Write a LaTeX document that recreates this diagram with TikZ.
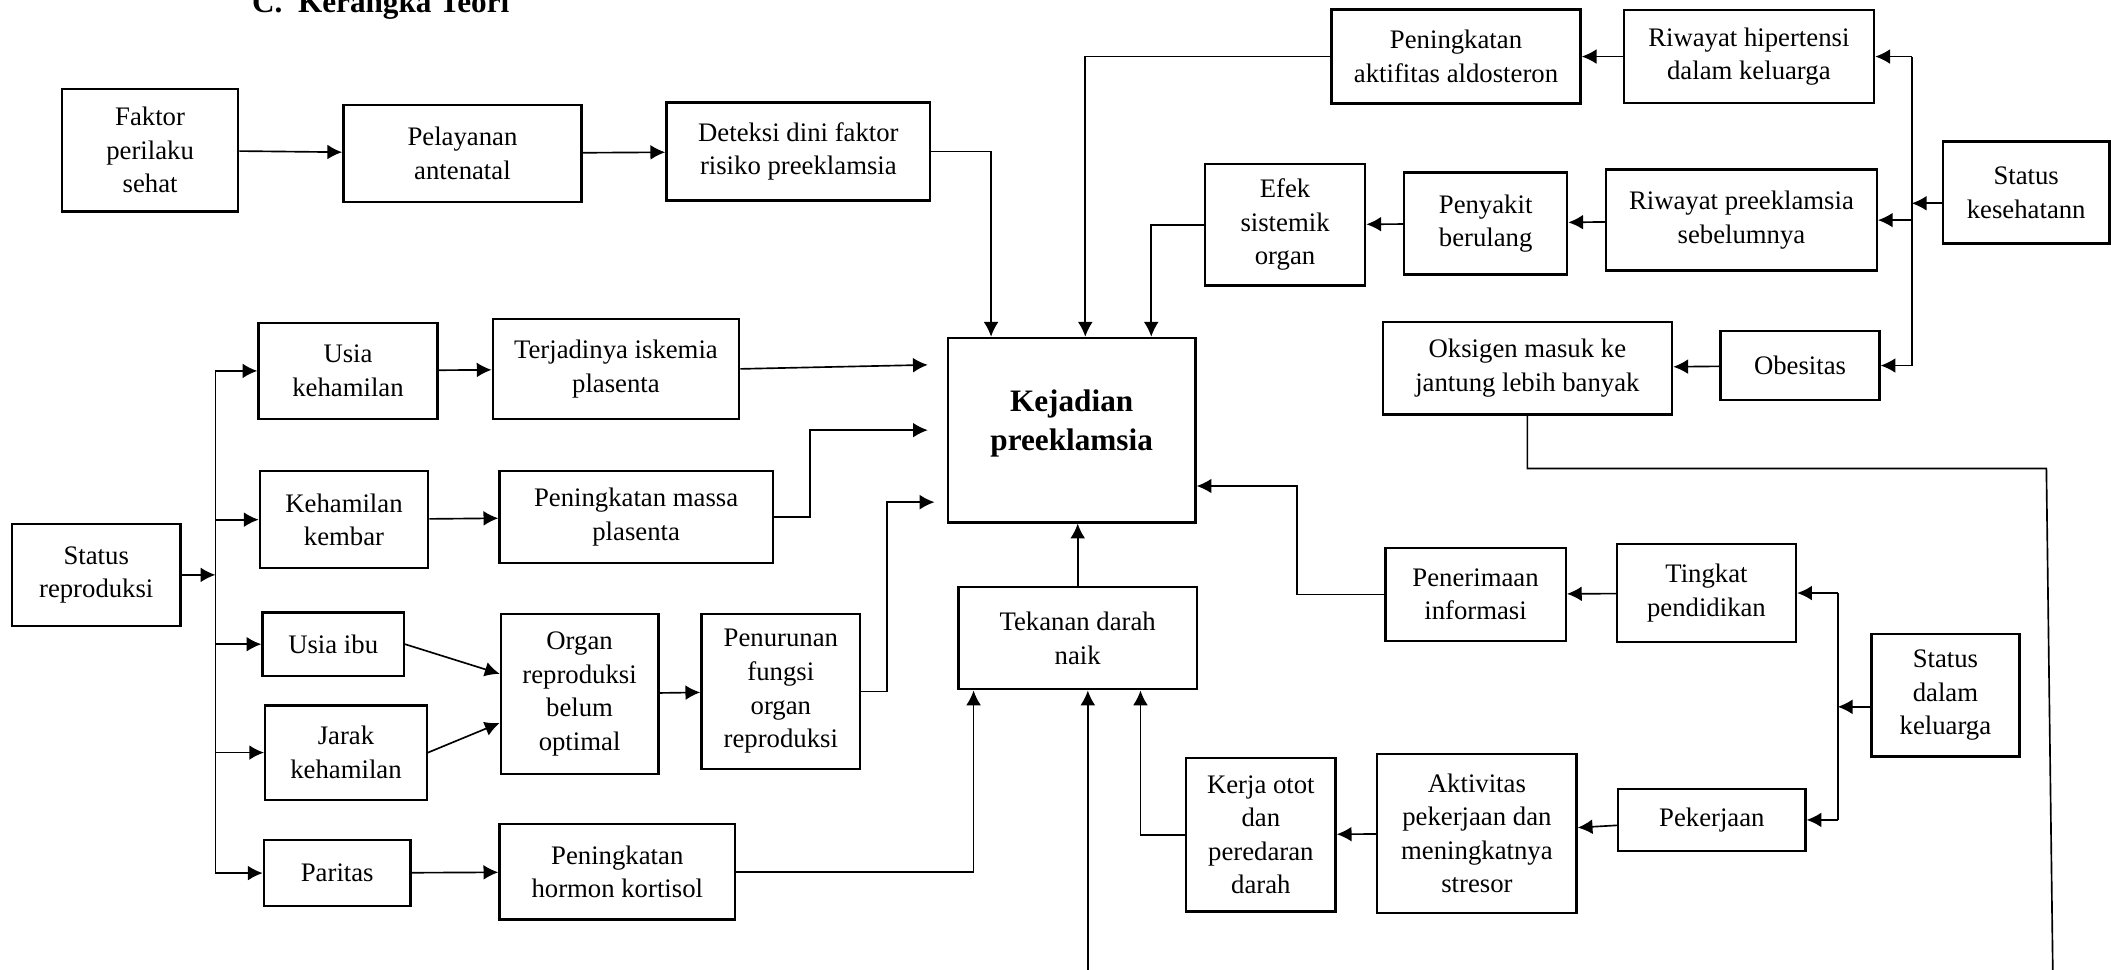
\documentclass[tikz,border=0pt]{standalone}
\usepackage{fontspec}
\setmainfont{Liberation Serif}
\usepackage{tikz}
\usetikzlibrary{arrows.meta}

\begin{document}
\begin{tikzpicture}[x=0.02cm, y=-0.02cm,
    kotak/.style={rectangle,draw=black,line width=1pt,align=center,inner sep=1pt,font=\fontsize{11.3}{14.2}\selectfont},
    panah/.style={-{Latex[length=2.2mm,width=2.2mm]},line width=0.7pt},
    garis/.style={line width=0.7pt}]
    \useasboundingbox (0,0) rectangle (1568,720);
    \node[anchor=base west,font=\fontsize{13.2}{16}\selectfont\bfseries] (T) at (181,9.5) {C.\ \ Kerangka Teori};

    \node[kotak,minimum width=2.62cm,minimum height=1.82cm] (FPS) at (111.5,111.5) {Faktor\\perilaku\\sehat};
    \node[kotak,minimum width=3.54cm,minimum height=1.44cm] (PA) at (343.5,114) {Pelayanan\\antenatal};
    \node[kotak,minimum width=3.92cm,minimum height=1.46cm] (DD) at (593,112.5) {Deteksi dini faktor\\risiko preeklamsia};
    \node[kotak,minimum width=2.5cm,minimum height=1.52cm] (SR) at (71.5,427) {Status\\reproduksi};
    \node[kotak,minimum width=2.66cm,minimum height=1.42cm] (UK) at (258.5,275.5) {Usia\\kehamilan};
    \node[kotak,minimum width=3.66cm,minimum height=1.48cm] (TI) at (457.5,274) {Terjadinya iskemia\\plasenta};
    \node[kotak,minimum width=2.5cm,minimum height=1.44cm] (KK) at (255.5,386) {Kehamilan\\kembar};
    \node[kotak,minimum width=4.06cm,minimum height=1.36cm] (PM) at (472.5,384) {Peningkatan massa\\plasenta};
    \node[kotak,minimum width=2.1cm,minimum height=0.94cm] (UI) at (247.5,478.5) {Usia ibu};
    \node[kotak,minimum width=2.4cm,minimum height=1.4cm] (JK) at (257,559) {Jarak\\kehamilan};
    \node[kotak,minimum width=2.34cm,minimum height=2.38cm] (OR) at (430.5,515.5) {Organ\\reproduksi\\belum\\optimal};
    \node[kotak,minimum width=2.36cm,minimum height=2.3cm] (PF) at (580,513.5) {Penurunan\\fungsi\\organ\\reproduksi};
    \node[kotak,minimum width=2.18cm,minimum height=0.98cm] (PR) at (250.5,648.5) {Paritas};
    \node[kotak,minimum width=3.5cm,minimum height=1.42cm] (HK) at (458.5,647.5) {Peningkatan\\hormon kortisol};
    \node[kotak,minimum width=3.68cm,minimum height=2.74cm,text depth=0.3cm,font=\fontsize{13.2}{16.4}\selectfont\bfseries] (KP) at (796,319.5) {Kejadian\\preeklamsia};
    \node[kotak,minimum width=3.54cm,minimum height=1.52cm] (TD) at (800.5,474) {Tekanan darah\\naik};
    \node[kotak,minimum width=3.7cm,minimum height=1.4cm] (AL) at (1081.5,42) {Peningkatan\\aktifitas aldosteron};
    \node[kotak,minimum width=3.72cm,minimum height=1.38cm] (RH) at (1299,42) {Riwayat hipertensi\\dalam keluarga};
    \node[kotak,minimum width=2.48cm,minimum height=1.52cm] (SK) at (1505,143) {Status\\kesehatann};
    \node[kotak,minimum width=2.38cm,minimum height=1.8cm] (ES) at (954.5,167) {Efek\\sistemik\\organ};
    \node[kotak,minimum width=2.42cm,minimum height=1.52cm] (PB) at (1103.5,166) {Penyakit\\berulang};
    \node[kotak,minimum width=4.02cm,minimum height=1.5cm] (RP) at (1293.5,163.5) {Riwayat preeklamsia\\sebelumnya};
    \node[kotak,minimum width=4.3cm,minimum height=1.38cm] (OK) at (1134.5,273.5) {Oksigen masuk ke\\jantung lebih banyak};
    \node[kotak,minimum width=2.36cm,minimum height=1.02cm] (OB) at (1337,271.5) {Obesitas};
    \node[kotak,minimum width=2.68cm,minimum height=1.38cm] (PI) at (1096,441.5) {Penerimaan\\informasi};
    \node[kotak,minimum width=2.66cm,minimum height=1.46cm] (TP) at (1267.5,440.5) {Tingkat\\pendidikan};
    \node[kotak,minimum width=2.2cm,minimum height=1.82cm] (SD) at (1445,516.5) {Status\\dalam\\keluarga};
    \node[kotak,minimum width=2.22cm,minimum height=2.28cm] (KO) at (936.5,620) {Kerja otot\\dan\\peredaran\\darah};
    \node[kotak,minimum width=2.96cm,minimum height=2.36cm] (AP) at (1097,619) {Aktivitas\\pekerjaan dan\\meningkatnya\\stresor};
    \node[kotak,minimum width=2.78cm,minimum height=0.92cm] (PK) at (1271.5,609) {Pekerjaan};

    \coordinate (BR) at (160,0);
    \coordinate (BK) at (1420,0);
    \coordinate (BD) at (1365,0);
    \coordinate (SKk) at ([yshift=-0.16cm]SK.west);
    \coordinate (SDk) at ([yshift=-0.17cm]SD.west);
    \coordinate (OE) at (1520,348);
    \coordinate (OZ) at (1525,740);
    \coordinate (BZ) at (808,740);

    \draw[panah] (FPS) -- (PA);
    \draw[panah] (PA) -- (DD);
    \draw[panah] (DD.east) -| ([xshift=0.66cm]KP.north west);
    \draw[panah] (AL.west) -| ([xshift=2.06cm]KP.north west);
    \draw[panah] (ES.west) -| ([xshift=3.04cm]KP.north west);
    \draw[panah] (RH) -- (AL);
    \draw[panah] (PB) -- (ES);
    \draw[panah] (RP) -- (PB);
    \draw[panah] (OB) -- (OK);
    \draw[garis] (RH.east -| BK) -- (OB.east -| BK);
    \path[panah] (RH.east -| BK) edge (RH.east)
        (RP.east -| BK) edge (RP.east)
        (OB.east -| BK) edge (OB.east)
        (SKk) edge (SKk -| BK);
    \draw[garis] (OK.south) |- (OE) -- (OZ);

    \draw[panah] (TD.north) -- (TD.north |- KP.south);
    \draw[panah] (PI.west) -- ++(-1.3cm,0) |- ([yshift=-0.83cm]KP.east);
    \draw[panah] (TP) -- (PI);
    \draw[garis] (TP.east -| BD) -- (PK.east -| BD);
    \path[panah] (TP.east -| BD) edge (TP.east)
        (PK.east -| BD) edge (PK.east)
        (SDk) edge (SDk -| BD);
    \draw[panah] (PK) -- (AP);
    \draw[panah] (AP) -- (KO);
    \draw[panah] (KO.west) -| ([xshift=2.72cm]TD.south west);
    \draw[panah] (HK.east) -| ([xshift=0.24cm]TD.south west);
    \draw[panah] (BZ) -- (BZ |- TD.south);

    \draw[panah] (SR.east) -- (SR.east -| BR);
    \draw[garis] (UK.west -| BR) -- (PR.west -| BR);
    \path[panah] (UK.west -| BR) edge (UK.west)
        (KK.west -| BR) edge (KK.west)
        (UI.west -| BR) edge (UI.west)
        (JK.west -| BR) edge (JK.west)
        (PR.west -| BR) edge (PR.west);
    \draw[panah] (UK) -- (TI);
    \draw[panah] (TI.east) -- ([xshift=-0.28cm,yshift=0.97cm]KP.west);
    \draw[panah] (KK) -- (PM);
    \draw[panah] (PM.east) -- ++(0.54cm,0) |- ([xshift=-0.28cm]KP.west);
    \draw[panah] (UI.east) -- ([yshift=0.3cm]OR.west);
    \draw[panah] (JK.east) -- ([yshift=-0.43cm]OR.west);
    \draw[panah] (OR) -- (PF);
    \draw[panah] (PF.east) -- ++(0.38cm,0) |- ([xshift=-0.18cm,yshift=-1.07cm]KP.west);
    \draw[panah] (PR) -- (HK);
\end{tikzpicture}
\end{document}
